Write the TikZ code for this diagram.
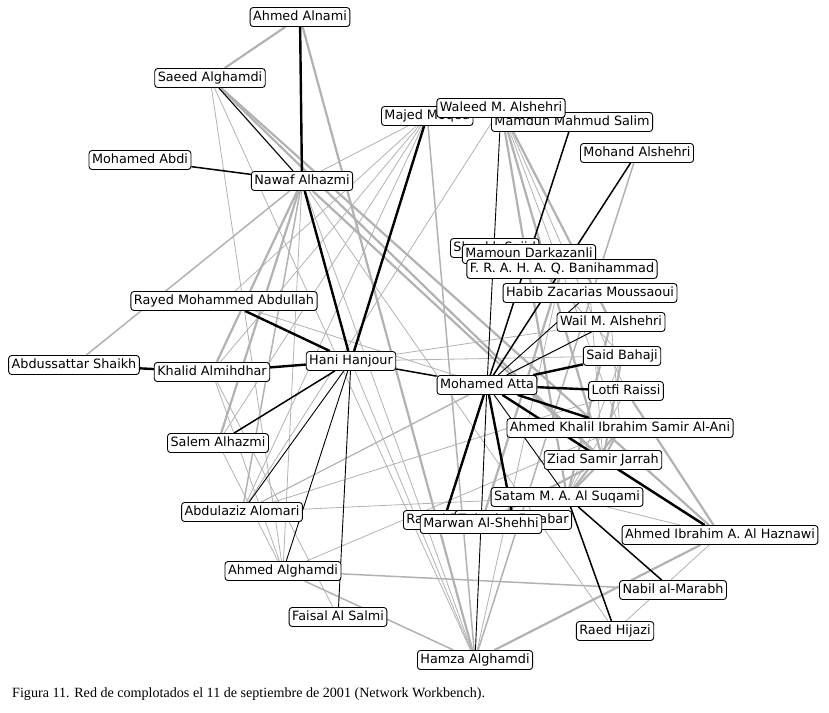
\documentclass[tikz,border=0pt]{standalone}
\usepackage{fontspec}
\newfontfamily\nodefont{DejaVu Sans}
\newfontfamily\capfont{Liberation Serif}
\pgfdeclarelayer{edges}
\pgfsetlayers{edges,main}
\tikzset{
  person/.style={draw, rounded corners=3pt, fill=white, line width=0.9pt,
    font=\nodefont\fontsize{12.8}{14}\selectfont, inner xsep=3pt, inner ysep=0pt,
    minimum height=19pt, text height=9.6pt, text depth=2.7pt},
  strong/.style={line width=2.4pt, black},
  tie/.style={line width=1.5pt, black},
  weak/.style={line width=0.9pt, black},
  gthick/.style={line width=2.2pt, black!30},
  gtie/.style={line width=1.5pt, black!30},
  gthin/.style={line width=0.8pt, black!30}
}
\begin{document}
\begin{tikzpicture}[x=1pt, y=-1pt]
  \useasboundingbox (0,0) rectangle (829,712);
  \node [person] (alnami) at (300,17) {Ahmed Alnami};
  \node [person] (saeed) at (210,78) {Saeed Alghamdi};
  \node [person, anchor=west] (majed) at (381,116) {Majed Moqed};
  \node [person] (mamdun) at (572,122) {Mamdun Mahmud Salim};
  \node [person] (waleed) at (501,108) {Waleed M. Alshehri};
  \node [person] (mohand) at (637,153) {Mohand Alshehri};
  \node [person] (abdi) at (140,160) {Mohamed Abdi};
  \node [person] (nawaf) at (302,181) {Nawaf Alhazmi};
  \node [person, anchor=west] (shaykh) at (450,248) {Shaykh Saiid};
  \node [person] (darkaz) at (529,254) {Mamoun Darkazanli};
  \node [person] (banih) at (562,269) {F. R. A. H. A. Q. Banihammad};
  \node [person] (moussaoui) at (590,293) {Habib Zacarias Moussaoui};
  \node [person] (wail) at (611,322) {Wail M. Alshehri};
  \node [person] (rayed) at (224,301) {Rayed Mohammed Abdullah};
  \node [person] (bahaji) at (622,356) {Said Bahaji};
  \node [person] (shaikh) at (74,365) {Abdussattar Shaikh};
  \node [person] (khalid) at (212,372) {Khalid Almihdhar};
  \node [person] (hani) at (351,361) {Hani Hanjour};
  \node [person] (atta) at (487,385) {Mohamed Atta};
  \node [person] (raissi) at (626,391) {Lotfi Raissi};
  \node [person] (alani) at (620,428) {Ahmed Khalil Ibrahim Samir Al-Ani};
  \node [person] (salem) at (218,443) {Salem Alhazmi};
  \node [person] (jarrah) at (603,460) {Ziad Samir Jarrah};
  \node [person] (suqami) at (567,497) {Satam M. A. Al Suqami};
  \node [person] (alomari) at (242,512) {Abdulaziz Alomari};
  \node [person, anchor=west] (ramzi) at (403,520) {Ramzi Binalshibh};
  \node [person, anchor=east] (essabar) at (572,520) {Zakariya Essabar};
  \node [person] (marwan) at (481,524) {Marwan Al-Shehhi};
  \node [person] (haznawi) at (720,535) {Ahmed Ibrahim A. Al Haznawi};
  \node [person] (ahmedg) at (283,571) {Ahmed Alghamdi};
  \node [person] (marabh) at (673,590) {Nabil al-Marabh};
  \node [person] (salmi) at (338,617) {Faisal Al Salmi};
  \node [person] (hijazi) at (615,631) {Raed Hijazi};
  \node [person] (hamza) at (475,660) {Hamza Alghamdi};
  \node [font=\capfont\fontsize{14.1}{16}\selectfont, anchor=base west, inner sep=0pt] (caption) at (12,697)
    {Figura 11. Red de complotados el 11 de septiembre de 2001 (Network Workbench).};
  \begin{pgfonlayer}{edges}
    \draw [gthick] (alnami) -- (saeed);
    \draw [gthick] (alnami) -- (hamza);
    \draw [gthick] (saeed) -- (haznawi);
    \draw [gthick] (saeed) -- (jarrah);
    \draw [gthin] (saeed) -- (hamza);
    \draw [gthin] (saeed) -- (ahmedg);
    \draw [gtie] (saeed) -- (nawaf);
    \draw [gtie] (nawaf) -- (shaikh);
    \draw [gthick] (nawaf) -- (khalid);
    \draw [gthick] (nawaf) -- (salem);
    \draw [gtie] (nawaf) -- (alomari);
    \draw [gthin] (nawaf) -- (ahmedg);
    \draw [gthick] (nawaf) -- (jarrah);
    \draw [gthin] (nawaf) -- (hamza);
    \draw [gthin] (nawaf) -- (hijazi);
    \draw [gthin] (majed) -- (nawaf);
    \draw [gthin] (majed) -- (khalid);
    \draw [gthin] (majed) -- (salem);
    \draw [gthin] (majed) -- (alomari);
    \draw [gthin] (majed) -- (rayed);
    \draw [gtie] (majed) -- (hamza);
    \draw [gthin] (waleed) -- (alomari);
    \draw [gthick] (waleed) -- (suqami);
    \draw [gthick] (waleed) -- (jarrah);
    \draw [gthin] (waleed) -- (alani);
    \draw [gthin] (waleed) -- (raissi);
    \draw [gthick] (waleed) -- (wail);
    \draw [gtie] (mohand) -- (hamza);
    \draw [gthin] (hani) -- (hamza);
    \draw [gthin] (hani) -- (wail);
    \draw [gthin] (hani) -- (bahaji);
    \draw [gthin] (rayed) -- (alani);
    \draw [gthin] (atta) -- (alomari);
    \draw [gthin] (alomari) -- (suqami);
    \draw [gthin] (alomari) -- (wail);
    \draw [gthin] (alomari) -- (raissi);
    \draw [gthin] (khalid) -- (ahmedg);
    \draw [gthin] (khalid) -- (salmi);
    \draw [gthin] (salem) -- (ahmedg);
    \draw [gtie] (ahmedg) -- (marabh);
    \draw [gtie] (ahmedg) -- (hamza);
    \draw [gthin] (ahmedg) -- (alani);
    \draw [gthick] (hamza) -- (haznawi);
    \draw [gthin] (banih) -- (hamza);
    \draw [gthick] (marwan) -- (banih);
    \draw [gthick] (marwan) -- (jarrah);
    \draw [gthick] (wail) -- (suqami);
    \draw [gthick] (bahaji) -- (jarrah);
    \draw [gthick] (raissi) -- (haznawi);
    \draw [gthick] (alani) -- (suqami);
    \draw [gthick] (alani) -- (jarrah);
    \draw [gthick] (jarrah) -- (suqami);
    \draw [gthick] (jarrah) -- (haznawi);
    \draw [gthin] (moussaoui) -- (jarrah);
    \draw [gthin] (darkaz) -- (bahaji);
    \draw [gthin] (wail) -- (alani);
    \draw [gthin] (suqami) -- (haznawi);
    \draw [gthin] (raissi) -- (suqami);
    \draw [gthin] (bahaji) -- (suqami);
    \draw [gthin] (hijazi) -- (haznawi);
    \draw [gthin] (atta) -- (jarrah);
    \draw [strong] (alnami) -- (nawaf);
    \draw [strong] (nawaf) -- (hani);
    \draw [weak] (saeed) -- (nawaf);
    \draw [tie] (abdi) -- (nawaf);
    \draw [strong] (majed) -- (hani);
    \draw [strong] (rayed) -- (hani);
    \draw [strong] (shaikh) -- (khalid);
    \draw [strong] (khalid) -- (hani);
    \draw [tie] (salem) -- (hani);
    \draw [weak] (alomari) -- (hani);
    \draw [weak] (ahmedg) -- (hani);
    \draw [weak] (salmi) -- (hani);
    \draw [tie] (hani) -- (atta);
    \draw [weak] (waleed) -- (atta);
    \draw [tie] (mamdun) -- (atta);
    \draw [tie] (mohand) -- (atta);
    \draw [weak] (moussaoui) -- (atta);
    \draw [weak] (wail) -- (atta);
    \draw [strong] (bahaji) -- (atta);
    \draw [strong] (raissi) -- (atta);
    \draw [strong] (atta) -- (alani);
    \draw [strong] (atta) -- (haznawi);
    \draw [weak] (atta) -- (suqami);
    \draw [strong] (atta) -- (essabar);
    \draw [strong] (atta) -- ([xshift=44pt]ramzi.north west);
    \draw [weak] (atta) -- (marwan);
    \draw [weak] (marwan) -- (hamza);
    \draw [tie] (suqami) -- (hijazi);
    \draw [tie] (suqami) -- (marabh);
  \end{pgfonlayer}
\end{tikzpicture}
\end{document}
